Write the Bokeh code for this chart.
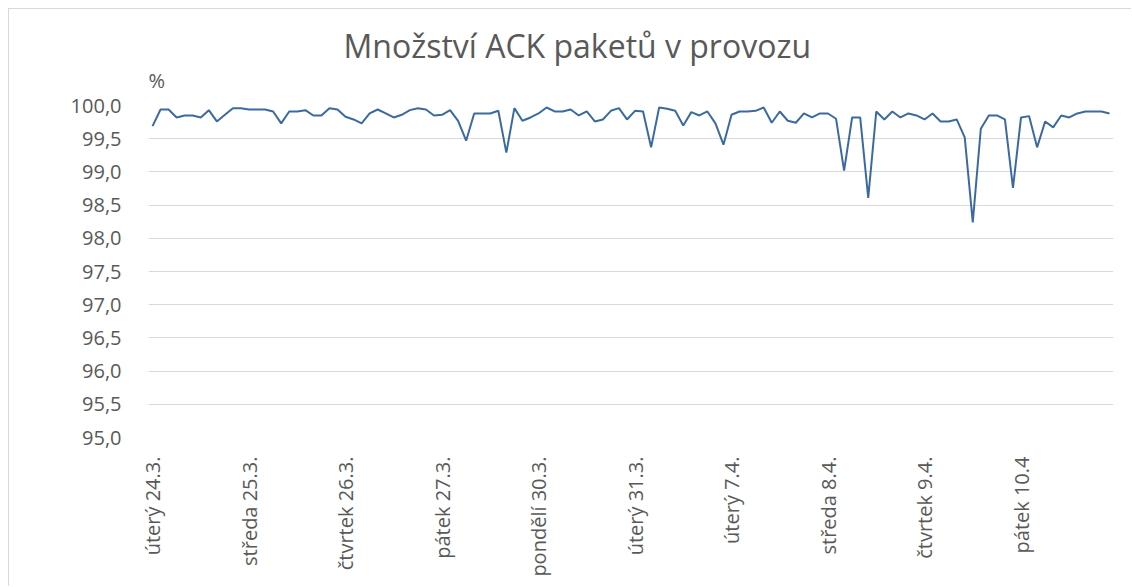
import math
from bokeh.plotting import figure
from bokeh.models import FixedTicker, Range1d, Title
from bokeh.embed import file_html
from bokeh.resources import INLINE

title_text = "Množství ACK paketů v provozu"
unit_text = "%"

day_labels = ["úterý 24.3.", "středa 25.3.", "čtvrtek 26.3.", "pátek 27.3.",
              "pondělí 30.3.", "úterý 31.3.", "úterý 7.4.", "středa 8.4.",
              "čtvrtek 9.4.", "pátek 10.4"]

ack_share = [
    99.69, 99.94, 99.94, 99.82, 99.85, 99.85, 99.82, 99.93, 99.76, 99.86,
    99.96, 99.96, 99.94, 99.94, 99.94, 99.91, 99.73, 99.91, 99.91, 99.93,
    99.85, 99.85, 99.96, 99.94, 99.83, 99.79, 99.73, 99.88, 99.94, 99.88,
    99.82, 99.86, 99.93, 99.96, 99.94, 99.85, 99.86, 99.93, 99.77, 99.47,
    99.88, 99.88, 99.88, 99.92, 99.29, 99.96, 99.77, 99.82, 99.88, 99.97,
    99.91, 99.91, 99.94, 99.85, 99.91, 99.76, 99.79, 99.92, 99.96, 99.79,
    99.92, 99.91, 99.37, 99.97, 99.95, 99.92, 99.70, 99.90, 99.85, 99.91,
    99.73, 99.41, 99.86, 99.91, 99.91, 99.92, 99.97, 99.74, 99.91, 99.77,
    99.74, 99.88, 99.82, 99.88, 99.88, 99.80, 99.02, 99.82, 99.82, 98.61,
    99.91, 99.79, 99.91, 99.82, 99.88, 99.85, 99.79, 99.88, 99.76, 99.76,
    99.79, 99.52, 98.24, 99.65, 99.85, 99.85, 99.79, 98.76, 99.82, 99.84,
    99.37, 99.76, 99.67, 99.85, 99.82, 99.88, 99.91, 99.91, 99.91, 99.88,
]

y_ticks = [95.0, 95.5, 96.0, 96.5, 97.0, 97.5, 98.0, 98.5, 99.0, 99.5, 100.0]
y_tick_labels = ["95,0", "95,5", "96,0", "96,5", "97,0", "97,5", "98,0",
                 "98,5", "99,0", "99,5", "100,0"]

n = len(ack_share)
xs = list(range(n))
step = n // len(day_labels)

FONT = "Open Sans"
TXT = "#595959"

p = figure(width=1123, height=578, output_backend="svg", toolbar_location=None,
           x_range=Range1d(-0.5, n - 0.5), y_range=Range1d(95, 100),
           min_border_left=139, min_border_right=19,
           min_border_top=96, min_border_bottom=150)
p.styles = {"margin-left": "8px", "margin-top": "8px",
            "border-left": "1px solid #d9d9d9", "border-top": "1px solid #d9d9d9"}
p.outline_line_color = None
p.background_fill_color = "white"
p.border_fill_color = "white"

p.line(xs, ack_share, line_color="#3b6b9e", line_width=2)

p.xaxis.ticker = FixedTicker(ticks=list(range(0, n, step)))
p.xaxis.major_label_overrides = {i * step: lab for i, lab in enumerate(day_labels)}
p.xaxis.major_label_orientation = math.pi / 2
p.xaxis.major_label_standoff = 13
p.xgrid.visible = False

p.yaxis.ticker = FixedTicker(ticks=y_ticks)
p.yaxis.major_label_overrides = {t: l for t, l in zip(y_ticks, y_tick_labels)}
p.yaxis.major_label_standoff = 21
p.ygrid.grid_line_color = "#d9d9d9"
p.ygrid.grid_line_width = 1

for ax in (p.xaxis, p.yaxis):
    ax.axis_line_color = None
    ax.major_tick_line_color = None
    ax.minor_tick_line_color = None
    ax.major_label_text_font = FONT
    ax.major_label_text_color = TXT
    ax.major_label_text_font_size = "20px"

p.title = Title(text=title_text, align="left", offset=195, standoff=-27,
                text_font=FONT, text_font_size="32px", text_color=TXT,
                text_font_style="normal")
p.add_layout(Title(text=unit_text, align="left", offset=0, standoff=23,
                   text_font=FONT, text_font_size="20px", text_color=TXT,
                   text_font_style="normal"), "above")

open("out.html", "w").write(file_html(p, INLINE))
